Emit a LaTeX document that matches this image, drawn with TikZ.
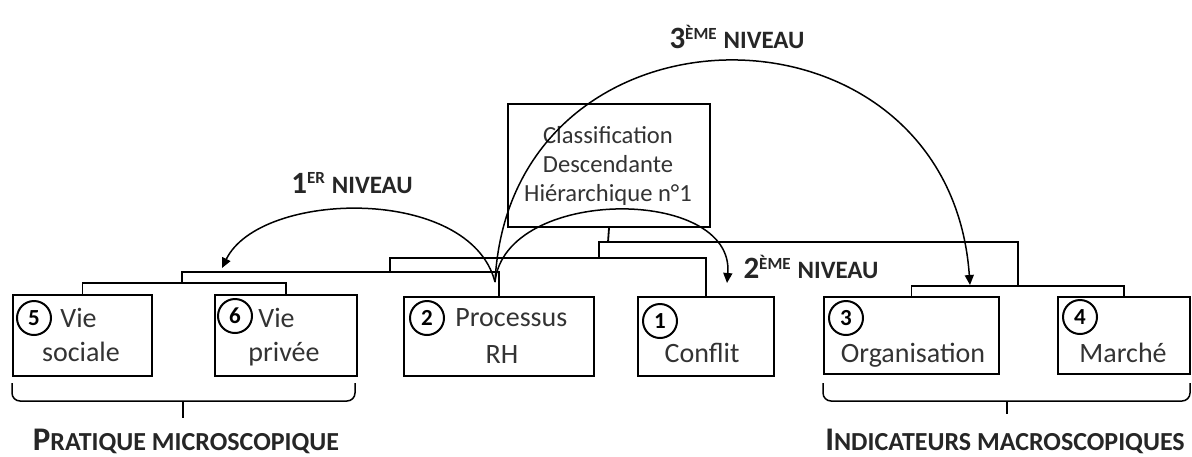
\documentclass[tikz,border=0pt]{standalone}
\usepackage{fontspec}
\setmainfont{Carlito}
\usetikzlibrary{arrows.meta}
\newcommand{\lvllabel}[3]{{\fontsize{15.5}{18}\selectfont\bfseries #1}\raisebox{4.8pt}{\fontsize{8.5}{10}\selectfont\bfseries #2}\hspace{3.5pt}{\fontsize{12.5}{14}\selectfont\bfseries #3}}
\newcommand{\scaplabel}[2]{{\fontsize{16.5}{18}\selectfont\bfseries #1}{\fontsize{13}{14}\selectfont\bfseries #2}}
\begin{document}
\begin{tikzpicture}[x=0.5pt,y=-0.5pt,
  box/.style={draw=black, line width=1pt, inner sep=0pt, anchor=north west},
  num/.style={draw=black, circle, line width=1pt, minimum size=17pt, inner sep=0pt,
              font=\fontsize{11.5}{12}\selectfont\bfseries},
  txt/.style={inner sep=0pt, font=\fontsize{14}{17}\selectfont, text=black!80},
  tree/.style={line width=0.9pt},
  arc/.style={line width=0.75pt, -{Triangle[length=5pt,width=4.5pt]}},
  lbl/.style={inner sep=0pt, text=black!85},
  brace/.style={line width=0.75pt, rounded corners=4pt}
]
\useasboundingbox (0,0) rectangle (1192,456);

% boxes
\node[box, minimum width=101pt, minimum height=61.5pt] (cdh) at (507,103) {};
\node[box, minimum width=69.5pt, minimum height=40.5pt] (b5) at (12,294) {};
\node[box, minimum width=71pt, minimum height=40.5pt] (b6) at (214,294) {};
\node[box, minimum width=95pt, minimum height=39.5pt] (b2) at (403,296) {};
\node[box, minimum width=68pt, minimum height=39.5pt] (b1) at (637,296) {};
\node[box, minimum width=87.5pt, minimum height=38.5pt] (b3) at (823,296) {};
\node[box, minimum width=66pt, minimum height=38.5pt] (b4) at (1057,296) {};

% classification text
\node[txt, align=center, font=\fontsize{12.3}{14.5}\selectfont] (cdht) at (608,166)
  {Classification\\Descendante\\Hiérarchique n°1};

% box contents
\node[num] (n5) at (34,318) {5};
\node[txt, anchor=base west] (t5a) at (60,327) {Vie};
\node[txt, anchor=base] (t5b) at (81,361) {sociale};

\node[num] (n6) at (235,316) {6};
\node[txt, anchor=base west] (t6a) at (258,327) {Vie};
\node[txt, anchor=base] (t6b) at (284,361) {privée};

\node[num] (n2) at (427,318) {2};
\node[txt, anchor=base west] (t2a) at (455,326) {Processus};
\node[txt, anchor=base] (t2b) at (502,363) {RH};

\node[num] (n1) at (660,321) {1};
\node[txt, anchor=base] (t1) at (702,362) {Conflit};

\node[num] (n3) at (846,318) {3};
\node[txt, anchor=base] (t3) at (913,362) {Organisation};

\node[num] (n4) at (1080,317) {4};
\node[txt, anchor=base] (t4) at (1123,362) {Marché};

% dendrogram
\coordinate (h56) at (182,283);
\coordinate (hA) at (390,272);
\coordinate (hB) at (599,258);
\coordinate (hC) at (1018,286);
\coordinate (hR) at (608,242);
\draw[tree] (b5.north) |- (h56) -| (b6.north);
\draw[tree] (h56) |- (hA) -| (b2.north);
\draw[tree] (hA) |- (hB) -| (b1.north);
\draw[tree] (b3.north) |- (hC) -| (b4.north);
\draw[tree] (hB) |- (hR) -| (hC);
\draw[tree] (cdh.south) -- (hR);

% level arrows
\coordinate (S) at (495,282);
\coordinate (T1) at (222,268);
\coordinate (T2) at (727,283);
\coordinate (T3) at (970,285);
\draw[arc] (S) .. controls (470,185) and (260,190) .. (T1);
\draw[arc] (S) .. controls (505,186) and (735,186) .. (T2);
\draw[arc] (S) .. controls (510,-13) and (949,-13) .. (T3);

\node[lbl] (l1) at (352,183) {\lvllabel{1}{ER}{NIVEAU}};
\node[lbl] (l2) at (811,267) {\lvllabel{2}{ÈME}{NIVEAU}};
\node[lbl] (l3) at (737,37) {\lvllabel{3}{ÈME}{NIVEAU}};

% braces
\coordinate (bl1) at (12,383);
\coordinate (bl2) at (355,383);
\coordinate (mL) at (183,401);
\coordinate (tL) at (183,418);
\draw[brace] (bl1) |- (mL) -| (bl2);
\draw[line width=0.75pt] (mL) -- (tL);
\coordinate (br1) at (823,383);
\coordinate (br2) at (1190,383);
\coordinate (mR) at (1007,401);
\coordinate (tR) at (1007,414);
\draw[brace] (br1) |- (mR) -| (br2);
\draw[line width=0.75pt] (mR) -- (tR);

\node[lbl] (pm) at (186,441) {\scaplabel{P}{RATIQUE MICROSCOPIQUE}};
\node[lbl] (im) at (1005,441) {\scaplabel{I}{NDICATEURS MACROSCOPIQUES}};
\end{tikzpicture}
\end{document}
